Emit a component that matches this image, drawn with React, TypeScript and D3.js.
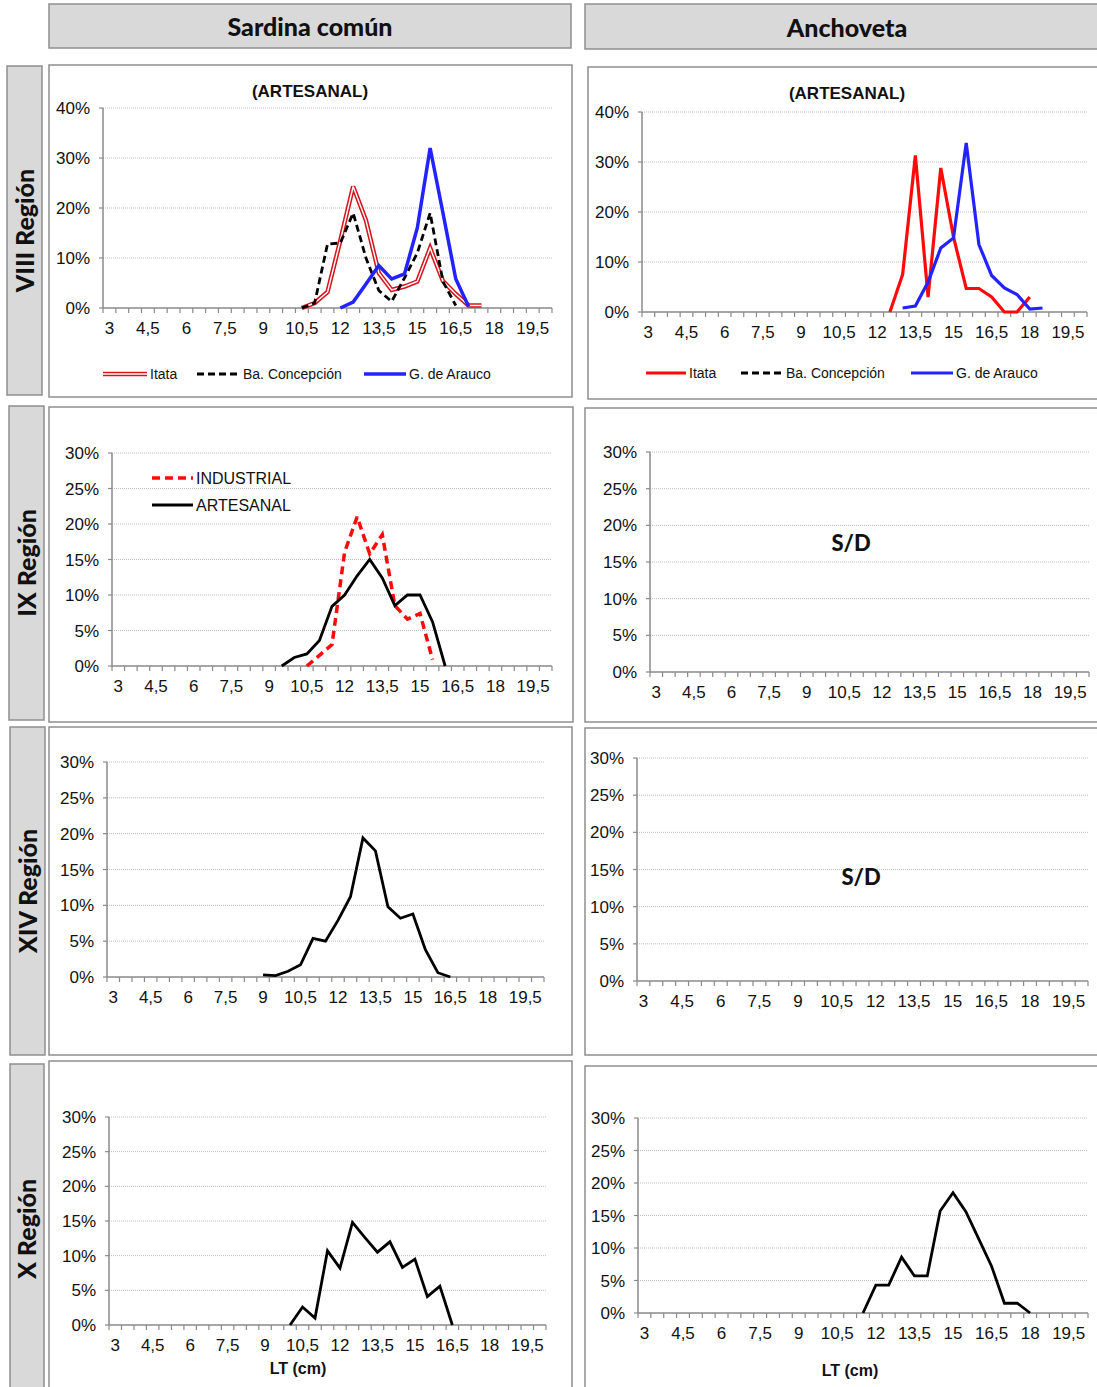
import * as d3 from 'd3';
import { useEffect, useRef } from 'react';

// length classes (cm), one category every 0,5 cm
const lengthClasses = [
  3, 3.5, 4, 4.5, 5, 5.5, 6, 6.5, 7, 7.5, 8, 8.5, 9, 9.5, 10, 10.5, 11, 11.5,
  12, 12.5, 13, 13.5, 14, 14.5, 15, 15.5, 16, 16.5, 17, 17.5, 18, 18.5, 19, 19.5, 20,
];

const speciesHeaders = ['Sardina común', 'Anchoveta'];
const regionLabels = ['VIII Región', 'IX Región', 'XIV Región', 'X Región'];

// [LT (cm), % frequency]
const sardVIIIItata: [number, number][] = [
  [10.5, 0], [11, 1], [11.5, 3.2], [12, 13.5], [12.5, 24.3], [13, 17.5], [13.5, 7], [14, 3.6],
  [14.5, 4.3], [15, 5.3], [15.5, 12], [16, 5.4], [16.5, 2.8], [17, 0.5], [17.5, 0.5],
];
const sardVIIIConcepcion: [number, number][] = [
  [10.5, 0], [11, 1], [11.5, 12.8], [12, 13], [12.5, 19], [13, 10], [13.5, 3.5], [14, 1.3],
  [14.5, 6], [15, 11], [15.5, 19], [16, 5.3], [16.5, 0.5],
];
const sardVIIIArauco: [number, number][] = [
  [12, 0], [12.5, 1.2], [13, 4.8], [13.5, 8.5], [14, 5.8], [14.5, 6.8], [15, 16], [15.5, 32],
  [16, 19], [16.5, 5.8], [17, 0.3],
];
const anchVIIIItata: [number, number][] = [
  [12.5, 0], [13, 7.5], [13.5, 31.3], [14, 3], [14.5, 28.8], [15, 15], [15.5, 4.7], [16, 4.7],
  [16.5, 3], [17, 0], [17.5, 0], [18, 3],
];
const anchVIIIArauco: [number, number][] = [
  [13, 0.8], [13.5, 1.2], [14, 6], [14.5, 12.8], [15, 14.8], [15.5, 33.8], [16, 13.5],
  [16.5, 7.3], [17, 4.8], [17.5, 3.5], [18, 0.6], [18.5, 0.8],
];
const sardIXIndustrial: [number, number][] = [
  [10.5, 0], [11, 1.5], [11.5, 3], [12, 16], [12.5, 21], [13, 15.8], [13.5, 18.5], [14, 8.5],
  [14.5, 6.6], [15, 7.4], [15.5, 0.9],
];
const sardIXArtesanal: [number, number][] = [
  [9.5, 0], [10, 1.2], [10.5, 1.7], [11, 3.6], [11.5, 8.4], [12, 10], [12.5, 12.7], [13, 15],
  [13.5, 12.4], [14, 8.5], [14.5, 10], [15, 10], [15.5, 6.2], [16, 0],
];
const sardXIV: [number, number][] = [
  [9, 0.3], [9.5, 0.2], [10, 0.8], [10.5, 1.7], [11, 5.4], [11.5, 5], [12, 7.9], [12.5, 11.2],
  [13, 19.4], [13.5, 17.6], [14, 9.8], [14.5, 8.2], [15, 8.8], [15.5, 3.8], [16, 0.6], [16.5, 0],
];
const sardX: [number, number][] = [
  [10, 0], [10.5, 2.6], [11, 1], [11.5, 10.7], [12, 8.2], [12.5, 14.8], [13, 12.6], [13.5, 10.5],
  [14, 12], [14.5, 8.3], [15, 9.5], [15.5, 4.1], [16, 5.6], [16.5, 0],
];
const anchX: [number, number][] = [
  [11.5, 0], [12, 4.3], [12.5, 4.3], [13, 8.6], [13.5, 5.7], [14, 5.7], [14.5, 15.7], [15, 18.5],
  [15.5, 15.6], [16, 11.4], [16.5, 7.2], [17, 1.5], [17.5, 1.5], [18, 0],
];

type Series = { data: [number, number][]; color: string; kind: 'solid' | 'dashed' | 'double'; width: number; dash?: string };
type LegendItem = { x1: number; x2: number; y: number; label: string; s: Series };
type Panel = {
  box: [number, number, number, number];
  x: [number, number];
  y: [number, number];
  max: number;
  step: number;
  title?: [string, number, number];
  note?: [string, number, number];
  xTitle?: [number, number];
  series: Series[];
  legend: LegendItem[];
  legendSize?: number;
};

const itataDouble: Series = { data: sardVIIIItata, color: '#d2161e', kind: 'double', width: 4.5 };
const concSeries: Series = { data: sardVIIIConcepcion, color: '#000', kind: 'dashed', width: 2.8, dash: '7,4' };
const araucoSard: Series = { data: sardVIIIArauco, color: '#2323ff', kind: 'solid', width: 3.5 };
const itataAnch: Series = { data: anchVIIIItata, color: '#ff0a0a', kind: 'solid', width: 3.2 };
const concEmpty: Series = { data: [], color: '#000', kind: 'dashed', width: 2.8, dash: '7,4' };
const araucoAnch: Series = { data: anchVIIIArauco, color: '#2323ff', kind: 'solid', width: 3.2 };
const industrial: Series = { data: sardIXIndustrial, color: '#ff0a0a', kind: 'dashed', width: 3.5, dash: '8,5' };
const artesanal: Series = { data: sardIXArtesanal, color: '#000', kind: 'solid', width: 2.8 };

const panels: Panel[] = [
  {
    box: [49, 65, 523, 332], x: [103, 552], y: [308, 108], max: 40, step: 10,
    title: ['(ARTESANAL)', 310, 97],
    series: [itataDouble, concSeries, araucoSard],
    legend: [
      { x1: 103, x2: 147, y: 374, label: 'Itata', s: itataDouble },
      { x1: 197, x2: 240, y: 374, label: 'Ba. Concepción', s: concSeries },
      { x1: 364, x2: 406, y: 374, label: 'G. de Arauco', s: araucoSard },
    ],
  },
  {
    box: [588, 67, 520, 332], x: [642, 1087], y: [312, 112], max: 40, step: 10,
    title: ['(ARTESANAL)', 847, 99],
    series: [itataAnch, araucoAnch],
    legend: [
      { x1: 646, x2: 686, y: 373, label: 'Itata', s: itataAnch },
      { x1: 741, x2: 783, y: 373, label: 'Ba. Concepción', s: concEmpty },
      { x1: 911, x2: 953, y: 373, label: 'G. de Arauco', s: araucoAnch },
    ],
  },
  {
    box: [49, 407, 524, 315], x: [112, 552], y: [666, 453], max: 30, step: 5,
    series: [industrial, artesanal],
    legend: [
      { x1: 152, x2: 193, y: 478, label: 'INDUSTRIAL', s: industrial },
      { x1: 152, x2: 193, y: 505, label: 'ARTESANAL', s: artesanal },
    ],
    legendSize: 16,
  },
  {
    box: [585, 408, 520, 314], x: [650, 1089], y: [672, 452], max: 30, step: 5,
    note: ['S/D', 851, 543], series: [], legend: [],
  },
  {
    box: [49, 727, 523, 328], x: [107, 544], y: [977, 762], max: 30, step: 5,
    series: [{ data: sardXIV, color: '#000', kind: 'solid', width: 2.8 }], legend: [],
  },
  {
    box: [585, 728, 520, 327], x: [637, 1088], y: [981, 758], max: 30, step: 5,
    note: ['S/D', 861, 877], series: [], legend: [],
  },
  {
    box: [49, 1061, 523, 330], x: [109, 546], y: [1325, 1117], max: 30, step: 5,
    xTitle: [298, 1374],
    series: [{ data: sardX, color: '#000', kind: 'solid', width: 2.8 }], legend: [],
  },
  {
    box: [585, 1066, 520, 325], x: [638, 1088], y: [1313, 1118], max: 30, step: 5,
    xTitle: [850, 1376],
    series: [{ data: anchX, color: '#000', kind: 'solid', width: 2.8 }], legend: [],
  },
];

const headerBoxes: [number, number, number, number][] = [[49, 4, 522, 44], [585, 4, 520, 45]];
const regionBoxes: [number, number, number, number][] = [[7, 66, 35, 329], [9, 406, 35, 314], [10, 727, 35, 328], [10, 1064, 34, 330]];

const chartFont = '"Liberation Sans", Arial, sans-serif';
const headFont = 'Lato, "Open Sans", sans-serif';
const fmt = (v: number) => String(v).replace('.', ',');

export default function App() {
  const svgRef = useRef<SVGSVGElement | null>(null);

  useEffect(() => {
    const svg = d3.select(svgRef.current);
    svg.selectAll('*').remove();

    // species headers
    headerBoxes.forEach(([bx, by, bw, bh], i) => {
      svg.append('rect').attr('x', bx).attr('y', by).attr('width', bw).attr('height', bh)
        .attr('fill', '#d9d9d9').attr('stroke', '#8e8e8e').attr('stroke-width', 1.5);
      svg.append('text').attr('x', bx + (i === 0 ? bw / 2 : 262)).attr('y', by + bh / 2 + 10)
        .attr('text-anchor', 'middle').attr('font-family', headFont).attr('font-weight', 900)
        .attr('font-size', 25).attr('fill', '#111').text(speciesHeaders[i]);
    });

    // region labels
    regionBoxes.forEach(([bx, by, bw, bh], i) => {
      svg.append('rect').attr('x', bx).attr('y', by).attr('width', bw).attr('height', bh)
        .attr('fill', '#d9d9d9').attr('stroke', '#8e8e8e').attr('stroke-width', 1.5);
      const cx = bx + bw / 2 + 9;
      const cy = by + bh / 2;
      svg.append('text').attr('transform', `translate(${cx},${cy}) rotate(-90)`)
        .attr('text-anchor', 'middle').attr('font-family', headFont).attr('font-weight', 900)
        .attr('font-size', 25).attr('fill', '#111').text(regionLabels[i]);
    });

    panels.forEach((p) => {
      const g = svg.append('g');
      const [bx, by, bw, bh] = p.box;
      g.append('rect').attr('x', bx).attr('y', by).attr('width', bw).attr('height', bh)
        .attr('fill', '#fff').attr('stroke', '#8e8e8e').attr('stroke-width', 1.5);

      const x = d3.scaleBand<number>().domain(lengthClasses).range(p.x).paddingInner(0).paddingOuter(0);
      const cx = (v: number) => (x(v) as number) + x.bandwidth() / 2;
      const y = d3.scaleLinear().domain([0, p.max]).range(p.y);
      const yTicks = d3.range(0, p.max + p.step, p.step);

      // grid
      g.selectAll('.grid').data(yTicks.filter((t) => t > 0)).enter().append('line')
        .attr('x1', p.x[0]).attr('x2', p.x[1]).attr('y1', (d) => y(d)).attr('y2', (d) => y(d))
        .attr('stroke', '#bdbdbd').attr('stroke-width', 1).attr('stroke-dasharray', '1,1');

      // axes
      g.append('line').attr('x1', p.x[0]).attr('x2', p.x[0]).attr('y1', y(0)).attr('y2', y(p.max))
        .attr('stroke', '#8a8a8a').attr('stroke-width', 1.5);
      g.append('line').attr('x1', p.x[0]).attr('x2', p.x[1]).attr('y1', y(0)).attr('y2', y(0))
        .attr('stroke', '#8a8a8a').attr('stroke-width', 1.5);

      g.selectAll('.ytick').data(yTicks).enter().append('line')
        .attr('x1', p.x[0] - 4).attr('x2', p.x[0]).attr('y1', (d) => y(d)).attr('y2', (d) => y(d))
        .attr('stroke', '#8a8a8a').attr('stroke-width', 1.2);
      g.selectAll('.ylab').data(yTicks).enter().append('text')
        .attr('x', p.x[0] - 13).attr('y', (d) => y(d) + 6).attr('text-anchor', 'end')
        .attr('font-family', chartFont).attr('font-size', 17).attr('fill', '#111')
        .text((d) => `${d}%`);

      const bounds = lengthClasses.map((c) => x(c) as number).concat([p.x[1]]);
      g.selectAll('.xtick').data(bounds).enter().append('line')
        .attr('x1', (d) => d).attr('x2', (d) => d).attr('y1', y(0)).attr('y2', y(0) + 5)
        .attr('stroke', '#8a8a8a').attr('stroke-width', 1.2);
      g.selectAll('.xlab').data(lengthClasses.filter((_, i) => i % 3 === 0)).enter().append('text')
        .attr('x', (d) => cx(d)).attr('y', y(0) + 26).attr('text-anchor', 'middle')
        .attr('font-family', chartFont).attr('font-size', 17).attr('fill', '#111')
        .text((d) => fmt(d));

      if (p.title) {
        g.append('text').attr('x', p.title[1]).attr('y', p.title[2]).attr('text-anchor', 'middle')
          .attr('font-family', chartFont).attr('font-weight', 700).attr('font-size', 17)
          .attr('fill', '#111').text(p.title[0]);
      }
      if (p.note) {
        g.append('text').attr('x', p.note[1]).attr('y', p.note[2] + 8).attr('text-anchor', 'middle')
          .attr('font-family', headFont).attr('font-weight', 900).attr('font-size', 22)
          .attr('fill', '#111').text(p.note[0]);
      }
      if (p.xTitle) {
        g.append('text').attr('x', p.xTitle[0]).attr('y', p.xTitle[1]).attr('text-anchor', 'middle')
          .attr('font-family', chartFont).attr('font-weight', 700).attr('font-size', 16)
          .attr('fill', '#111').text('LT (cm)');
      }

      const line = d3.line<[number, number]>().x((d) => cx(d[0])).y((d) => y(d[1]));

      const drawStroke = (sel: d3.Selection<SVGPathElement, any, any, any>, s: Series) => {
        sel.attr('stroke', s.color).attr('stroke-width', s.width)
          .attr('stroke-dasharray', s.kind === 'dashed' ? (s.dash as string) : null);
      };

      p.series.forEach((s) => {
        if (!s.data.length) return;
        const path = g.append('path').datum(s.data).attr('d', line).attr('fill', 'none')
          .attr('stroke-linejoin', 'miter').attr('stroke-miterlimit', 3);
        drawStroke(path, s);
        if (s.kind === 'double') {
          g.append('path').datum(s.data).attr('d', line).attr('fill', 'none')
            .attr('stroke', '#fff').attr('stroke-width', 1.4)
            .attr('stroke-linejoin', 'miter').attr('stroke-miterlimit', 3);
        }
      });

      const lsize = p.legendSize ?? 14;
      p.legend.forEach((l) => {
        const seg: [number, number][] = [[l.x1, l.y], [l.x2, l.y]];
        const path = g.append('path').attr('d', d3.line()(seg)).attr('fill', 'none');
        drawStroke(path, l.s);
        if (l.s.kind === 'double') {
          g.append('path').attr('d', d3.line()(seg)).attr('stroke', '#fff').attr('stroke-width', 1.4);
        }
        g.append('text').attr('x', l.x2 + 3).attr('y', l.y + lsize * 0.36)
          .attr('font-family', chartFont).attr('font-size', lsize).attr('fill', '#111').text(l.label);
      });
    });
  }, []);

  return (
    <svg
      ref={svgRef}
      width={1097}
      height={1387}
      style={{ position: 'absolute', left: 0, top: 0, background: '#fff', display: 'block' }}
    />
  );
}
